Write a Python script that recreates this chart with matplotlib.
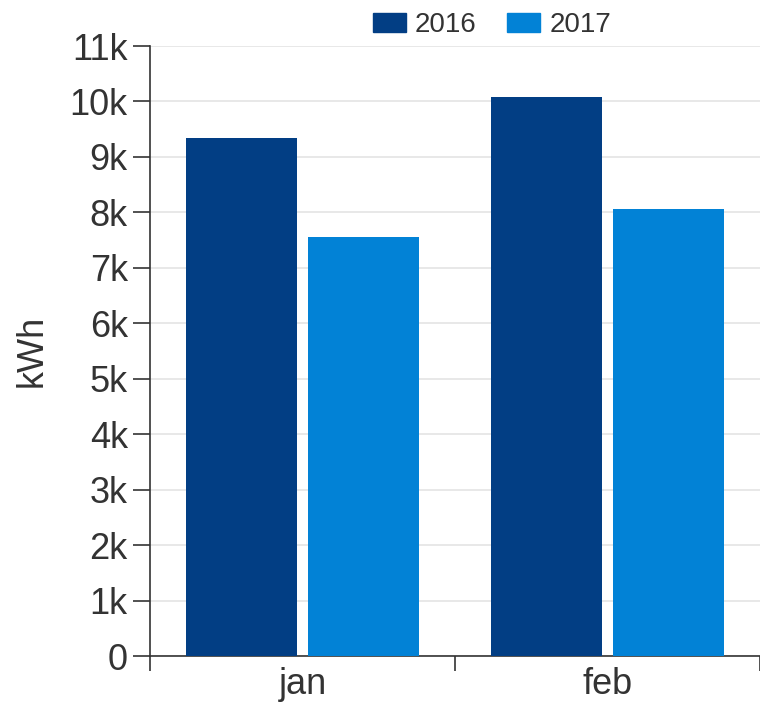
import matplotlib.pyplot as plt
from matplotlib.patches import Rectangle

# data
months = ['jan', 'feb']
years = ['2016', '2017']
kwh_2016 = [9350, 10080]
kwh_2017 = [7550, 8060]
colors = ['#023e84', '#0282d6']
yticks = list(range(0, 12000, 1000))
ylabels = ['0'] + [f'{i}k' for i in range(1, 12)]

plt.rcParams['font.family'] = ['Liberation Sans', 'DejaVu Sans']
txt = '#333333'

fig = plt.figure(figsize=(7.6, 7.09), dpi=100)
ax = fig.add_axes([150 / 760, 53 / 709, 610 / 760, 610 / 709])

x = list(range(len(months)))
w = 0.367
ax.bar([i - 0.2 for i in x], kwh_2016, width=w, color=colors[0], zorder=3)
ax.bar([i + 0.2 for i in x], kwh_2017, width=w, color=colors[1], zorder=3)

ax.set_xlim(-0.5, len(months) - 0.5)
ax.set_ylim(0, 11000)
ax.set_yticks(yticks)
ax.set_yticklabels(ylabels)
ax.yaxis.grid(True, color='#e4e4e4', linewidth=1.2, zorder=0)

# ticks at category boundaries, labels at centers
ax.set_xticks([i - 0.5 for i in range(len(months) + 1)])
ax.set_xticklabels([])
ax.set_xticks(x, minor=True)
ax.set_xticklabels(months, minor=True)
ax.tick_params(axis='x', which='minor', length=0, pad=8, labelsize=26, labelcolor=txt)
ax.tick_params(axis='x', which='major', length=11, width=1.2, color='#333333')
ax.tick_params(axis='y', length=12, width=1.2, color='#333333', labelsize=26,
               labelcolor=txt, pad=4)

for s in ['top', 'right']:
    ax.spines[s].set_visible(False)
for s in ['left', 'bottom']:
    ax.spines[s].set_color('#333333')
    ax.spines[s].set_linewidth(1.2)

ax.set_ylabel('kWh', fontsize=26, color=txt)
ax.yaxis.set_label_coords(-0.165, 0.5)

handles = [Rectangle((0, 0), 1, 1, color=c) for c in colors]
fig.legend(handles, years, loc='center', bbox_to_anchor=(492 / 760, 1 - 25 / 709),
           ncol=2, frameon=False, fontsize=20, handlelength=1.19, handleheight=0.7,
           handletextpad=0.32, columnspacing=1.1, labelcolor=txt)

fig.savefig('out.png', dpi=100)
